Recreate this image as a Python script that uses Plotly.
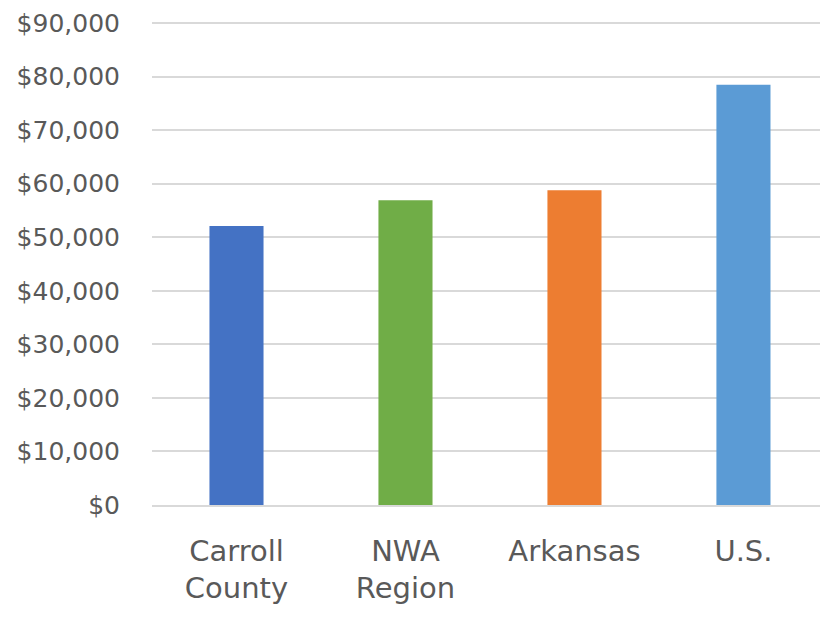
import plotly.graph_objects as go

categories = ["Carroll County", "NWA Region", "Arkansas", "U.S."]
label_line1 = ["Carroll", "NWA", "Arkansas", "U.S."]
label_line2 = ["County", "Region", "", ""]
values = [52100, 56900, 58800, 78500]
colors = ["#4472C4", "#70AD47", "#ED7D31", "#5B9BD5"]
tick_vals = [0, 10000, 20000, 30000, 40000, 50000, 60000, 70000, 80000, 90000]
tick_text = ["$0", "$10,000", "$20,000", "$30,000", "$40,000", "$50,000",
             "$60,000", "$70,000", "$80,000", "$90,000"]

pos = list(range(len(categories)))
xr = [-0.5, 3.453]

fig = go.Figure()
fig.add_trace(go.Bar(x=pos, y=values, marker_color=colors,
                     marker_line_width=0, width=0.32,
                     hovertext=categories))
# helper trace so the second (label-line) axis is drawn; draws nothing
fig.add_trace(go.Scatter(x=pos, y=values, xaxis="x2", mode="none",
                         hoverinfo="skip", showlegend=False))

FONT = "DejaVu Sans"
GREY = "#595959"
fig.update_layout(
    width=812, height=603,
    margin=dict(l=144, r=0, t=14, b=106, autoexpand=False),
    paper_bgcolor="white", plot_bgcolor="white",
    font=dict(family=FONT, size=25, color=GREY),
    showlegend=False,
    xaxis=dict(range=xr, tickvals=pos, ticktext=label_line1,
               showline=True, linecolor="#d9d9d9", linewidth=1.5,
               showgrid=False, zeroline=False, ticklabelstandoff=19,
               automargin=False,
               tickfont=dict(family=FONT, size=29, color=GREY)),
    xaxis2=dict(range=xr, tickvals=pos, ticktext=label_line2,
                overlaying="x", side="bottom", anchor="y",
                showline=False, showgrid=False, zeroline=False,
                ticklabelstandoff=63, automargin=False,
                tickfont=dict(family=FONT, size=29, color=GREY)),
    yaxis=dict(range=[0, 90200], tickvals=tick_vals, ticktext=tick_text,
               showgrid=True, gridcolor="#d9d9d9", gridwidth=1.5,
               zeroline=False, showline=False, ticklabelstandoff=31,
               ticklabeloverflow="allow", automargin=False,
               tickfont=dict(family=FONT, size=25, color=GREY)),
)

fig.write_html("out.html")
